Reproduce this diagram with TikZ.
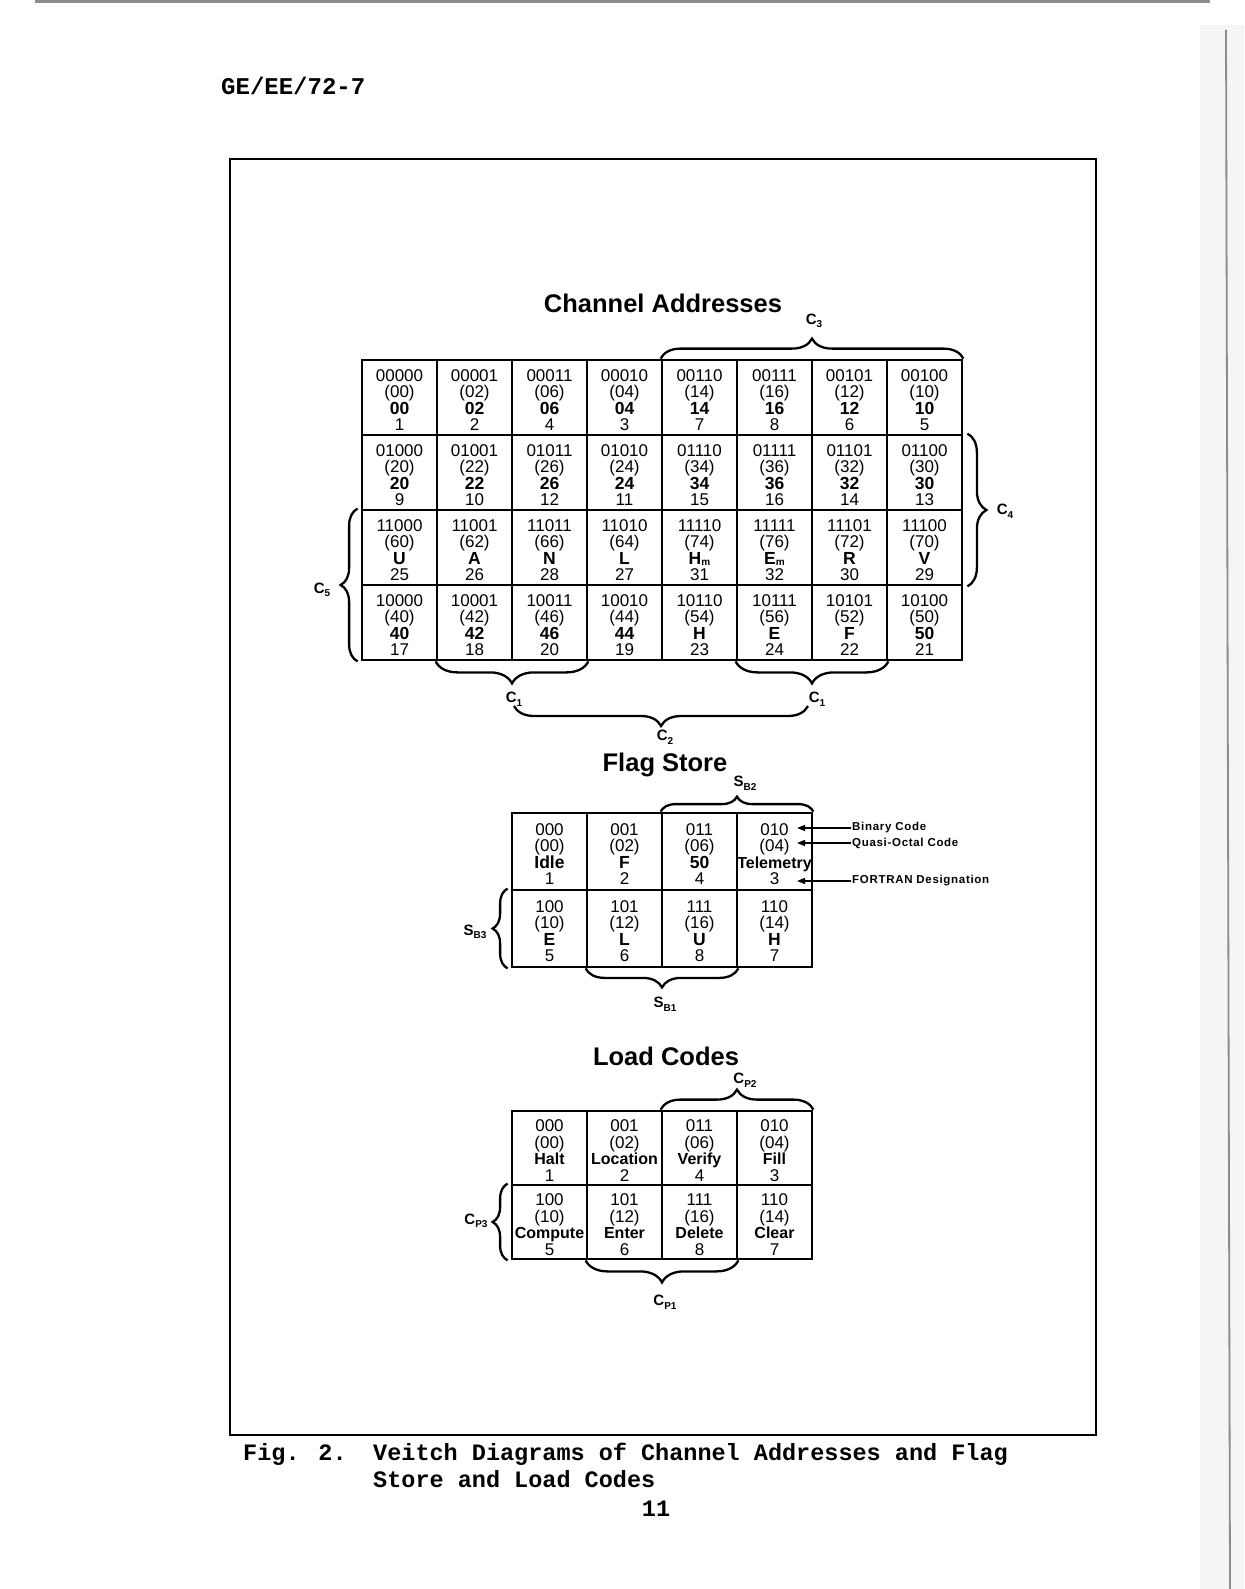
\documentclass[tikz,border=0pt]{standalone}
\usepackage{fontspec}
\setmainfont{Liberation Sans}
\newfontfamily\typew{Liberation Mono}
\newfontfamily\spaced[LetterSpace=6]{Liberation Sans}
\usetikzlibrary{decorations.pathreplacing,arrows.meta,calc}
\newcommand\lowsub[1]{\raisebox{-0.45ex}{\fontsize{10}{10}\selectfont #1}}
\newcommand\cellsub[1]{\raisebox{-0.1ex}{\fontsize{10}{10}\selectfont #1}}
\newcommand\ctext[4]{\rule{0pt}{17pt}#1\\(#2)\\{\fontsize{17.5}{16.5}\selectfont\bfseries #3}\\#4}
\tikzset{
  vc/.style={draw, line width=2.8pt, minimum width=75pt, minimum height=75pt,
    inner sep=0pt, align=center, font=\fontsize{17}{16.5}\selectfont},
  ttl/.style={font=\bfseries\fontsize{25.5}{28}\selectfont, inner sep=0pt},
  brc/.style={decorate, line width=2.3pt, decoration={brace, amplitude=#1}},
  brc/.default=18pt,
  blbl/.style={font=\bfseries\fontsize{15}{15}\selectfont, inner sep=0pt},
  note/.style={font=\spaced\bfseries\fontsize{11.5}{12}\selectfont, inner sep=1pt, anchor=west},
  ptr/.style={line width=1.4pt, -{Triangle[length=8pt,width=6pt]}},
  typ/.style={font=\typew\bfseries\fontsize{23.5}{25}\selectfont, inner sep=0pt, anchor=west},
}
\begin{document}
\begin{tikzpicture}[x=1pt,y=-1pt]
\useasboundingbox (0,0) rectangle (1244,1589);
\fill[white] (0,0) rectangle (1244,1589);
% scan edges
\fill[black!45] (35,0) rectangle (1210,3.5);
\fill[black!4] (1200,25) rectangle (1244,1589);
\draw[black!45, line width=1.8pt] (1226,30) -- (1230,1589);

% header
\node[typ, font=\typew\bfseries\fontsize{24}{26}\selectfont] (hdr) at (221,86) {GE/EE/72-7};

% frame
\draw[line width=2.8pt] (230,159) rectangle (1096,1435);

% ---------------- Channel Addresses ----------------
\node[ttl] (t1) at (663,303) {Channel Addresses};
\foreach \row [count=\ri] in {
 {00000/00/00/1, 00001/02/02/2, 00011/06/06/4, 00010/04/04/3, 00110/14/14/7, 00111/16/16/8, 00101/12/12/6, 00100/10/10/5},
 {01000/20/20/9, 01001/22/22/10, 01011/26/26/12, 01010/24/24/11, 01110/34/34/15, 01111/36/36/16, 01101/32/32/14, 01100/30/30/13},
 {11000/60/U/25, 11001/62/A/26, 11011/66/N/28, 11010/64/L/27, 11110/74/H\cellsub{m}/31, 11111/76/E\cellsub{m}/32, 11101/72/R/30, 11100/70/V/29},
 {10000/40/40/17, 10001/42/42/18, 10011/46/46/20, 10010/44/44/19, 10110/54/H/23, 10111/56/E/24, 10101/52/F/22, 10100/50/50/21}}{
  \foreach \xa/\xb/\xc/\xd [count=\ci] in \row {
    \node[vc] (ch-\ri-\ci) at ({362+75*(\ci-0.5)},{360+75*(\ri-0.5)}) {\ctext{\xa}{\xb}{\xc}{\xd}};
  }
}
\draw[brc=20pt] (ch-1-5.north west) -- (ch-1-8.north east);
\node[blbl] (lc3) at (814,321) {C\lowsub{3}};
\draw[brc=19pt] ([xshift=4pt]ch-2-8.north east) -- ([xshift=4pt]ch-3-8.south east);
\node[blbl] (lc4) at (1005,511) {C\lowsub{4}};
\draw[brc=17pt] ([xshift=-3pt]ch-4-1.south west) -- ([xshift=-3pt]ch-3-1.north west);
\node[blbl] (lc5) at (322,590) {C\lowsub{5}};
\draw[brc=22pt] (ch-4-3.south east) -- (ch-4-2.south west);
\node[blbl] (lc1a) at (514,699) {C\lowsub{1}};
\draw[brc=22pt] (ch-4-7.south east) -- (ch-4-6.south west);
\node[blbl] (lc1b) at (817,699) {C\lowsub{1}};
\coordinate (c2r) at (808,706);
\coordinate (c2l) at (514,706);
\draw[brc=20pt] (c2r) -- (c2l);
\node[blbl] (lc2) at (665,737) {C\lowsub{2}};

% ---------------- Flag Store ----------------
\node[ttl] (t2) at (665,765) {Flag Store};
\foreach \row [count=\ri] in {
 {000/00/Idle/1, 001/02/F/2, 011/06/50/4, 010/04/Telemetry/3},
 {100/10/E/5, 101/12/L/6, 111/16/U/8, 110/14/H/7}}{
  \foreach \xa/\xb/\xc/\xd [count=\ci] in \row {
    \node[vc, minimum height=77pt] (fs-\ri-\ci) at ({512+75*(\ci-0.5)},{813+77*(\ri-0.5)}) {\ctext{\xa}{\xb}{\ifnum\ci=4 \ifnum\ri=1 \fontsize{16}{16}\selectfont\fi\fi\xc}{\xd}};
  }
}
\draw[brc=15pt] (fs-1-3.north west) -- (fs-1-4.north east);
\node[blbl] (lsb2) at (745,783) {S\lowsub{B2}};
\draw[brc=15pt] ([xshift=-3pt]fs-2-1.south west) -- ([xshift=-3pt]fs-2-1.north west);
\node[blbl] (lsb3) at (475,932) {S\lowsub{B3}};
\draw[brc=19pt] (fs-2-3.south east) -- (fs-2-2.south west);
\node[blbl] (lsb1) at (665,1004) {S\lowsub{B1}};

\node[note] (nbin) at (851,828) {Binary Code};
\node[note] (nqoc) at (851,843) {Quasi-Octal Code};
\node[note] (nfor) at (851,881) {FORTRAN Designation};
\coordinate (tbin) at (797,828);
\coordinate (tqoc) at (797,843);
\coordinate (tfor) at (797,881);
\draw[ptr] (nbin.west) -- (tbin);
\draw[ptr] (nqoc.west) -- (tqoc);
\draw[ptr] (nfor.west) -- (tfor);

% ---------------- Load Codes ----------------
\node[ttl] (t3) at (666,1056) {Load Codes};
\foreach \row [count=\ri] in {
 {000/00/Halt/1, 001/02/Location/2, 011/06/Verify/4, 010/04/Fill/3},
 {100/10/Compute/5, 101/12/Enter/6, 111/16/Delete/8, 110/14/Clear/7}}{
  \foreach \xa/\xb/\xc/\xd [count=\ci] in \row {
    \node[vc, minimum height=74pt] (lc-\ri-\ci) at ({512+75*(\ci-0.5)},{1111+74*(\ri-0.5)}) {\ctext{\xa}{\xb}{\fontsize{16}{16}\selectfont\xc}{\xd}};
  }
}
\draw[brc=20pt] (lc-1-3.north west) -- (lc-1-4.north east);
\node[blbl] (lcp2) at (745,1080) {C\lowsub{P2}};
\draw[brc=15pt] ([xshift=-3pt]lc-2-1.south west) -- ([xshift=-3pt]lc-2-1.north west);
\node[blbl] (lcp3) at (476,1221) {C\lowsub{P3}};
\draw[brc=22pt] (lc-2-3.south east) -- (lc-2-2.south west);
\node[blbl] (lcp1) at (665,1302) {C\lowsub{P1}};

% caption
\node[typ] (cap1) at (243,1454) {Fig. 2.};
\node[typ] (cap2) at (373,1454) {Veitch Diagrams of Channel Addresses and Flag};
\node[typ] (cap3) at (373,1479) {Store and Load Codes};
\node[typ, anchor=center] (pg) at (656,1509) {11};
\end{tikzpicture}
\end{document}
